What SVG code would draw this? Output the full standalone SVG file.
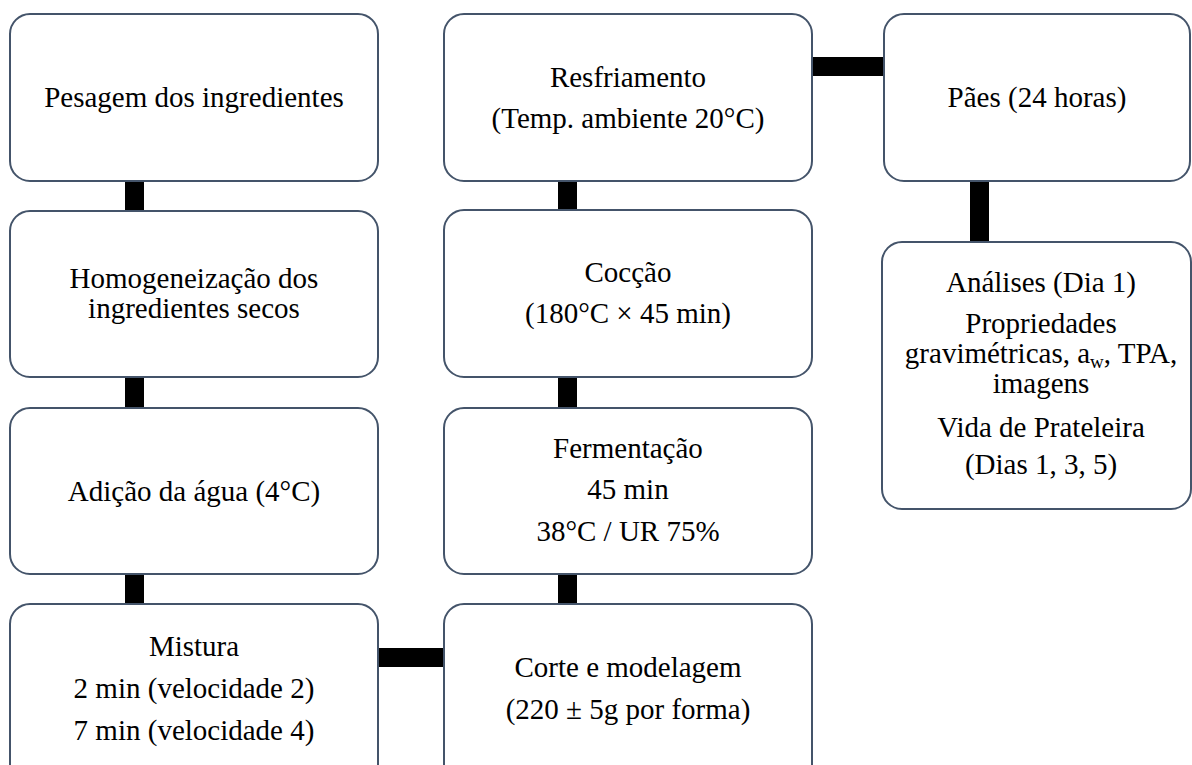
<svg xmlns="http://www.w3.org/2000/svg" width="1192" height="765" viewBox="0 0 1192 765">
<style>
.box{fill:#ffffff;stroke:#44546A;stroke-width:2}
text{font-family:'Liberation Serif','Times New Roman',Times,'DejaVu Serif',serif;font-size:29px;fill:#000;text-anchor:middle}
.c{fill:#000}
</style>
<rect width="1192" height="765" fill="#ffffff"/>
<g id="connectors">
<rect class="c" x="125" y="180" width="19" height="32"/>
<rect class="c" x="125" y="376" width="19" height="33"/>
<rect class="c" x="125" y="573" width="19" height="32"/>
<rect class="c" x="558" y="180" width="19" height="31"/>
<rect class="c" x="558" y="376" width="19" height="33"/>
<rect class="c" x="558" y="573" width="19" height="32"/>
<rect class="c" x="377" y="648" width="68" height="19"/>
<rect class="c" x="811" y="57" width="74" height="19"/>
<rect class="c" x="970" y="180" width="19" height="63"/>
</g>
<g id="pesagem">
<rect class="box" x="10" y="14" width="368" height="167" rx="20"/>
<text font-family="Liberation Serif, serif" x="194" y="107">Pesagem dos ingredientes</text>
</g>
<g id="homogeneizacao">
<rect class="box" x="10" y="211" width="368" height="166" rx="20"/>
<text x="194" y="288">Homogeneização dos</text>
<text x="194" y="318">ingredientes secos</text>
</g>
<g id="adicao">
<rect class="box" x="10" y="408" width="368" height="166" rx="20"/>
<text x="194" y="501">Adição da água (4°C)</text>
</g>
<g id="mistura">
<rect class="box" x="10" y="604" width="368" height="180" rx="20"/>
<text x="194" y="656">Mistura</text>
<text x="194" y="698">2 min (velocidade 2)</text>
<text x="194" y="740">7 min (velocidade 4)</text>
</g>
<g id="resfriamento">
<rect class="box" x="444" y="14" width="368" height="167" rx="20"/>
<text x="628" y="87">Resfriamento</text>
<text x="628" y="128">(Temp. ambiente 20°C)</text>
</g>
<g id="coccao">
<rect class="box" x="444" y="210" width="368" height="167" rx="20"/>
<text x="628" y="282">Cocção</text>
<text x="628" y="323">(180°C × 45 min)</text>
</g>
<g id="fermentacao">
<rect class="box" x="444" y="408" width="368" height="166" rx="20"/>
<text x="628" y="458">Fermentação</text>
<text x="628" y="499">45 min</text>
<text x="628" y="541">38°C / UR 75%</text>
</g>
<g id="corte">
<rect class="box" x="444" y="604" width="368" height="180" rx="20"/>
<text x="628" y="677">Corte e modelagem</text>
<text x="628" y="719">(220 ± 5g por forma)</text>
</g>
<g id="paes">
<rect class="box" x="884" y="14" width="306" height="167" rx="20"/>
<text x="1037" y="107">Pães (24 horas)</text>
</g>
<g id="analises">
<rect class="box" x="882" y="242" width="309" height="267" rx="20"/>
<text x="1041" y="292">Análises (Dia 1)</text>
<text x="1041" y="333">Propriedades</text>
<text x="1041" y="363">gravimétricas, a<tspan font-size="19" dy="5">w</tspan><tspan dy="-5">, TPA,</tspan></text>
<text x="1041" y="393">imagens</text>
<text x="1041" y="437">Vida de Prateleira</text>
<text x="1041" y="474">(Dias 1, 3, 5)</text>
</g>
</svg>
